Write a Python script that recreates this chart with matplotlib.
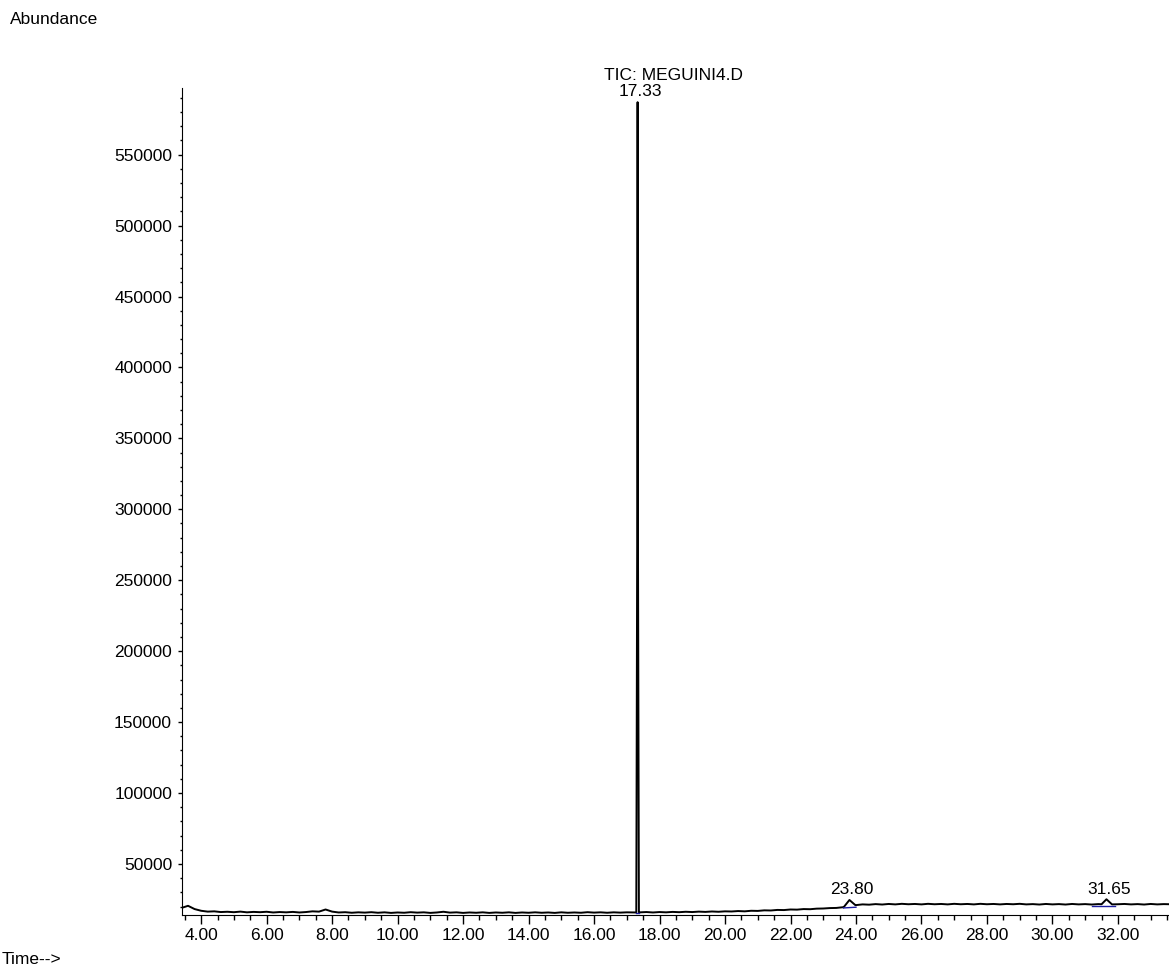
import numpy as np
import matplotlib
matplotlib.use('Agg')
import matplotlib.pyplot as plt
from matplotlib.ticker import MultipleLocator, FormatStrFormatter

plt.rcParams['font.family'] = ['Liberation Sans', 'DejaVu Sans']

# TIC baseline, one reading every 0.2 min starting at 3.4 min (thousands of counts)
scan_start = 3.4
scan_step = 0.2
baseline_k = [
    19.0, 20.5, 18.2, 17.0, 16.4, 16.6, 16.1, 16.3, 16.0, 16.4,
    15.9, 16.2, 16.0, 16.3, 15.8, 16.1, 15.9, 16.2, 15.8, 16.1,
    16.6, 16.4, 17.9, 16.4, 15.8, 16.0, 15.6, 15.9, 15.7, 16.0,
    15.6, 15.9, 15.5, 15.8, 15.6, 16.0, 15.7, 15.9, 15.5, 15.8,
    16.3, 15.7, 15.9, 15.5, 15.8, 15.6, 15.9, 15.5, 15.8, 15.6,
    15.9, 15.5, 15.8, 15.6, 15.9, 15.6, 15.8, 15.5, 15.9, 15.6,
    15.8, 15.6, 16.0, 15.7, 15.9, 15.6, 15.9, 15.7, 15.9, 15.8,
    15.9, 16.1, 15.8, 16.1, 15.9, 16.2, 16.0, 16.3, 16.1, 16.4,
    16.2, 16.5, 16.3, 16.6, 16.5, 16.8, 16.6, 17.0, 16.9, 17.3,
    17.2, 17.6, 17.5, 17.9, 17.8, 18.2, 18.1, 18.5, 18.6, 18.9,
    19.0, 19.5, 19.7, 21.0, 21.5, 21.3, 21.7, 21.4, 21.8, 21.5,
    21.9, 21.6, 21.8, 21.5, 21.9, 21.6, 21.8, 21.5, 21.9, 21.6,
    21.8, 21.5, 21.9, 21.6, 21.8, 21.5, 21.8, 21.6, 21.9, 21.5,
    21.7, 21.4, 21.8, 21.5, 21.7, 21.4, 21.8, 21.5, 21.7, 21.4,
    21.7, 21.6, 21.5, 21.6, 21.8, 21.5, 21.7, 21.4, 21.8, 21.5,
    21.7, 21.6,
]

# integrated peaks: retention time, apex abundance
peak_rt = [17.33, 23.80, 31.65]
peak_apex = [587000, 24600, 25100]

# points across each peak (min, counts)
peak_times = [
    [17.29, 17.32, 17.33, 17.34, 17.37],
    [23.62, 23.80, 23.98],
    [31.50, 31.65, 31.82],
]
peak_counts = [
    [15800, 300000, 587000, 290000, 15900],
    [19400, 24600, 21000],
    [21600, 25100, 21500],
]

# integration baselines (start t, start y, end t, end y)
int_lines = [
    (17.29, 15700, 17.37, 15700),
    (23.62, 19000, 24.00, 19500),
    (31.20, 20400, 31.92, 20400),
]

# build the trace
t = np.round(scan_start + scan_step * np.arange(len(baseline_k)), 2)
y = np.array(baseline_k) * 1000.0
keep = np.ones(len(t), dtype=bool)
for pt in peak_times:
    keep &= ~((t > pt[0]) & (t < pt[-1]))
t = np.concatenate([t[keep]] + [np.array(p) for p in peak_times])
y = np.concatenate([y[keep]] + [np.array(c, dtype=float) for c in peak_counts])
order = np.argsort(t)
t, y = t[order], y[order]

fig = plt.figure(figsize=(11.69, 9.69), dpi=100)
ax = fig.add_axes([0.1561, 0.0557, 0.8439, 0.8535])

ax.plot(t, y, color='black', lw=1.4)
for x0, y0, x1, y1 in int_lines:
    ax.plot([x0, x1], [y0, y1], color='#1c1ca0', lw=1.0)

for rt, apex in zip(peak_rt, peak_apex):
    ax.annotate('%.2f' % rt, (rt, apex), xytext=(2, 2), textcoords='offset points',
                ha='center', va='bottom', fontsize=12.5)

ax.set_xlim(3.43, 33.56)
ax.set_ylim(14000, 597000)

ax.xaxis.set_major_locator(MultipleLocator(2))
ax.xaxis.set_minor_locator(MultipleLocator(0.5))
ax.xaxis.set_major_formatter(FormatStrFormatter('%.2f'))
ax.yaxis.set_major_locator(MultipleLocator(50000))
ax.yaxis.set_minor_locator(MultipleLocator(10000))

ax.tick_params(axis='x', which='major', direction='out', length=6.5, width=1, pad=3, labelsize=12.5)
ax.tick_params(axis='x', which='minor', direction='out', length=3.6, width=1)
ax.tick_params(axis='y', which='major', direction='out', length=3, width=1, pad=4.5, labelsize=12.5)
ax.tick_params(axis='y', which='minor', direction='out', length=1.8, width=1)

ax.spines['top'].set_visible(False)
ax.spines['right'].set_visible(False)

fig.text(673 / 1169, 1 - 76 / 969, 'TIC: MEGUINI4.D', ha='center', va='center', fontsize=12.5)
fig.text(10 / 1169, 1 - 20 / 969, 'Abundance', ha='left', va='center', fontsize=12.5)
fig.text(2 / 1169, 1 - 960 / 969, 'Time-->', ha='left', va='center', fontsize=12.5)

fig.savefig('out.png', dpi=100)
